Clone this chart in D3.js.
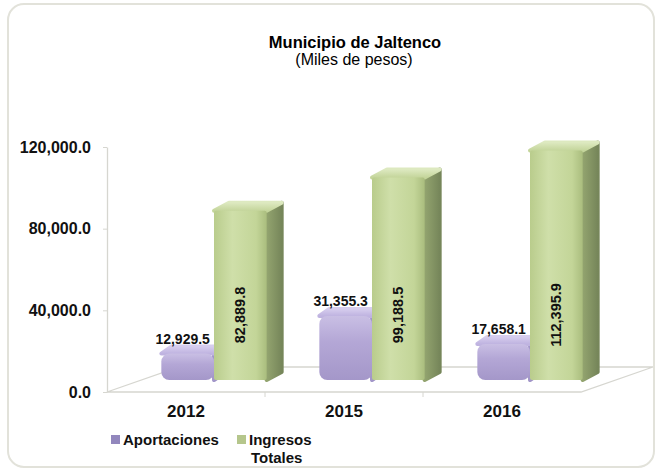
<!DOCTYPE html>
<html>
<head>
<meta charset="utf-8">
<script src="https://cdn.jsdelivr.net/npm/d3@7"></script>
<style>
  html, body { margin: 0; padding: 0; background: #fff; }
  svg { display: block; font-family: "Liberation Sans", Arial, sans-serif; }
</style>
</head>
<body>
<svg id="chart" width="660" height="473"></svg>
<script>
const years = ['2012', '2015', '2016']
const aportaciones = [12929.5, 31355.3, 17658.1]
const ingresos = [82889.8, 99188.5, 112395.9]
const seriesNames = ['Aportaciones', 'Ingresos Totales']
const yTicks = [0, 40000, 80000, 120000]

const svg = d3.select('#chart')
const fmt = d3.format(',.1f')

// outer frame
svg.append('rect')
  .attr('x', 8).attr('y', 4).attr('width', 646).attr('height', 463)
  .attr('rx', 16)
  .attr('fill', '#fff').attr('stroke', '#e2e2da').attr('stroke-width', 2)

// title
svg.append('text').attr('x', 355).attr('y', 48).attr('text-anchor', 'middle')
  .style('font-size', '16.5px').style('font-weight', 'bold').text('Municipio de Jaltenco')
svg.append('text').attr('x', 354).attr('y', 65).attr('text-anchor', 'middle')
  .style('font-size', '16px').text('(Miles de pesos)')

const left = 107, right = 581
const x = d3.scaleBand().domain(years).range([left, right])
const xSub = d3.scaleBand().domain(seriesNames).range([0, x.bandwidth()]).paddingOuter(0.5).paddingInner(0)
const y = d3.scaleLinear().domain([0, 120000]).range([392, 147])

const floorD = { dx: 72, dy: -25 }
const barOff = { dx: 28, dy: -12 }

// gradients
const defs = svg.append('defs')
const addGrad = (id, stops, horiz = true) => {
  const g = defs.append('linearGradient').attr('id', id)
    .attr('x1', 0).attr('y1', 0).attr('x2', horiz ? 1 : 0).attr('y2', horiz ? 0 : 1)
  stops.forEach(([o, c]) => g.append('stop').attr('offset', o).attr('stop-color', c))
}
addGrad('gFront', [[0, '#b9cc8c'], [0.35, '#cfdfa9'], [0.8, '#c3d598'], [1, '#aabd7e']])
addGrad('gSide', [[0, '#93a46f'], [1, '#76865a']])
addGrad('gTop', [[0, '#dde9c0'], [1, '#c4d59b']], false)
addGrad('pFront', [[0, '#c9bfe4'], [0.4, '#b4a7d6'], [1, '#a497c9']], false)
addGrad('pSide', [[0, '#a397c9'], [1, '#8a7db6']])
addGrad('pTop', [[0, '#d6cdee'], [1, '#bfb3e0']], false)

// floor
const fl = [[left, y(0)], [right, y(0)], [right + floorD.dx, y(0) + floorD.dy], [left + floorD.dx, y(0) + floorD.dy]]
svg.append('path')
  .attr('d', d3.line()(fl) + 'Z')
  .attr('fill', 'none').attr('stroke', '#d6d6d0').attr('stroke-width', 1.3)

// category ticks on front floor edge
svg.selectAll('.ctick').data(years.slice(1)).enter().append('line')
  .attr('x1', d => x(d)).attr('x2', d => x(d))
  .attr('y1', y(0)).attr('y2', y(0) + 5)
  .attr('stroke', '#d6d6d0')

// y axis
const yAxis = svg.append('g').attr('transform', `translate(${left},0)`)
  .call(d3.axisLeft(y).tickValues(yTicks).tickFormat(fmt).tickSize(4).tickSizeOuter(0).tickPadding(12))
yAxis.select('.domain').attr('stroke', '#d6d6d0').attr('stroke-width', 1.3)
yAxis.selectAll('.tick line').attr('stroke', '#d6d6d0')
yAxis.selectAll('.tick text')
  .style('font-size', '16px').style('font-family', '"Liberation Sans", Arial, sans-serif')
  .style('font-weight', 'bold').attr('fill', '#111')

// x labels
svg.selectAll('.xlab').data(years).enter().append('text')
  .attr('x', d => x(d) + x.bandwidth() / 2)
  .attr('y', 417)
  .attr('text-anchor', 'middle')
  .style('font-size', '17px').style('font-weight', 'bold').attr('fill', '#111')
  .text(d => d)

const base = y(0) + barOff.dy
const bw = xSub.bandwidth()

const drawBox = (g, x0, top, depth, fills, r) => {
  const x1 = x0 + bw
  g.append('path')
    .attr('d', d3.line()([[x1, top], [x1 + depth.dx, top + depth.dy], [x1 + depth.dx, base + depth.dy], [x1, base]]) + 'Z')
    .attr('fill', fills[1]).attr('stroke', fills[1]).attr('stroke-linejoin', 'round').attr('stroke-width', r ? 4 : 1)
  g.append('path')
    .attr('d', d3.line()([[x0, top], [x0 + depth.dx, top + depth.dy], [x1 + depth.dx, top + depth.dy], [x1, top]]) + 'Z')
    .attr('fill', fills[2]).attr('stroke', fills[2]).attr('stroke-linejoin', 'round').attr('stroke-width', r ? 4 : 1)
  g.append('rect')
    .attr('x', x0).attr('y', top).attr('width', bw).attr('height', base - top)
    .attr('rx', r).attr('fill', fills[0])
}

// bars
years.forEach((yr, i) => {
  const g = svg.append('g')
  const xp = x(yr) + xSub(seriesNames[0]) + barOff.dx
  const xg = x(yr) + xSub(seriesNames[1]) + barOff.dx
  const tp = y(aportaciones[i]) + barOff.dy
  const tg = y(ingresos[i]) + barOff.dy

  drawBox(g, xp, tp, { dx: 10, dy: -7 }, ['url(#pFront)', 'url(#pSide)', 'url(#pTop)'], 8)
  drawBox(g, xg, tg, { dx: 15, dy: -8 }, ['url(#gFront)', 'url(#gSide)', 'url(#gTop)'], 2)

  g.append('text')
    .attr('x', xp + bw / 2 - 5).attr('y', tp - 10)
    .attr('text-anchor', 'middle')
    .style('font-size', '14px').style('font-weight', 'bold').attr('fill', '#111')
    .text(fmt(aportaciones[i]))

  g.append('text')
    .attr('transform', `translate(${xg + bw / 2},${base - 65}) rotate(-90)`)
    .attr('text-anchor', 'middle').attr('dy', '0.35em')
    .style('font-size', '14.5px').style('font-weight', 'bold').attr('fill', '#111')
    .text(fmt(ingresos[i]))
})

// legend
const legend = svg.append('g')
const legX = [111, 237]
const legColors = ['#9287bd', '#b5c68c']
seriesNames.forEach((name, i) => {
  legend.append('rect')
    .attr('x', legX[i]).attr('y', 435).attr('width', 9).attr('height', 9)
    .attr('fill', legColors[i])
  const t = legend.append('text')
    .attr('x', legX[i] + 12).attr('y', 445)
    .style('font-size', '15px').style('font-weight', 'bold').attr('fill', '#111')
  const words = name.split(' ')
  words.forEach((w, j) => {
    t.append('tspan').attr('x', legX[i] + 12 + (j ? 2 : 0)).attr('dy', j ? 18 : 0).text(w)
  })
})
</script>
</body>
</html>
